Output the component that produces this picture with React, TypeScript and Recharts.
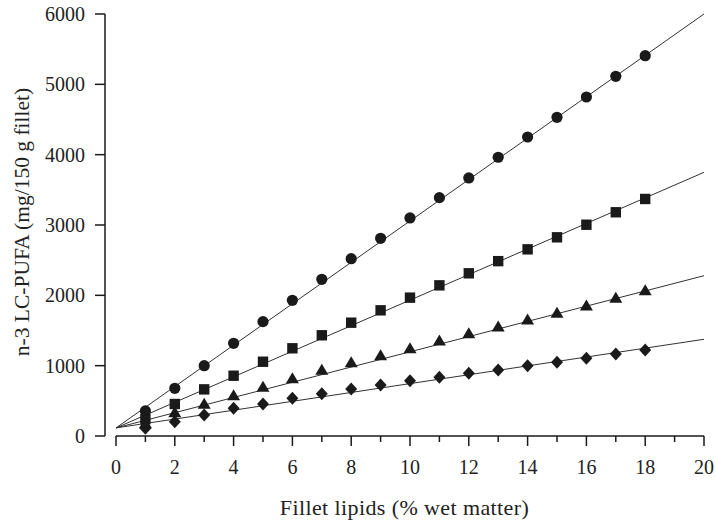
import React from "react"
import {
  ComposedChart,
  Line,
  Scatter,
  XAxis,
  YAxis,
  ReferenceLine,
  Label,
} from "recharts"

// fillet lipid levels (% wet matter)
const lipids = [1, 2, 3, 4, 5, 6, 7, 8, 9, 10, 11, 12, 13, 14, 15, 16, 17, 18]

// n-3 LC-PUFA per 150 g portion, one array per group
const circleVals = [356, 678, 1000, 1318, 1626, 1929, 2228, 2521, 2811, 3100, 3389, 3669, 3963, 4251, 4531, 4820, 5114, 5407]
const squareVals = [240, 455, 663, 857, 1056, 1247, 1432, 1611, 1787, 1967, 2142, 2313, 2486, 2654, 2825, 3004, 3181, 3370]
const triangleVals = [175, 330, 450, 573, 692, 815, 934, 1042, 1142, 1241, 1351, 1455, 1550, 1650, 1745, 1848, 1958, 2066]
const diamondVals = [109, 204, 299, 394, 455, 536, 602, 668, 725, 787, 835, 892, 940, 1000, 1048, 1105, 1166, 1223]

// regression lines, value at x = 0 and x = 20
const fitX = [0, 20]
const circleFit = [115, 6000]
const squareFit = [115, 3749]
const triangleFit = [115, 2279]
const diamondFit = [115, 1375]

const yTicks = [0, 1000, 2000, 3000, 4000, 5000, 6000]
const xTicks = [0, 1, 2, 3, 4, 5, 6, 7, 8, 9, 10, 11, 12, 13, 14, 15, 16, 17, 18, 19, 20]

const toPts = (vals: number[]) => lipids.map((x, i) => ({ x, y: vals[i] }))
const toFit = (vals: number[]) => fitX.map((x, i) => ({ x, y: vals[i] }))

const FONT = "'Liberation Serif', 'Times New Roman', serif"
const INK = "#1a1a1a"

const CircleDot = (p: any) => <circle cx={p.cx} cy={p.cy} r={5.6} fill={INK} />
const SquareDot = (p: any) => <rect x={p.cx - 5.2} y={p.cy - 5.2} width={10.4} height={10.4} fill={INK} />
const TriangleDot = (p: any) => (
  <polygon points={`${p.cx},${p.cy - 6.5} ${p.cx + 6.5},${p.cy + 4.5} ${p.cx - 6.5},${p.cy + 4.5}`} fill={INK} />
)
const DiamondDot = (p: any) => (
  <polygon points={`${p.cx},${p.cy - 6.5} ${p.cx + 6},${p.cy} ${p.cx},${p.cy + 6.5} ${p.cx - 6},${p.cy}`} fill={INK} />
)

const XTick = (props: any) => {
  const { x, y, payload } = props
  const major = payload.value % 2 === 0
  return (
    <g>
      <line x1={x} x2={x} y1={y} y2={y + (major ? 10 : 6)} stroke={INK} strokeWidth={1.5} />
      {major && (
        <text x={x} y={y + 38} textAnchor="middle" fontSize={20} fontFamily={FONT} fill="#222">
          {payload.value}
        </text>
      )}
    </g>
  )
}

const YTitle = (props: any) => {
  const { x, y, height } = props.viewBox
  const cx = x + 22
  const cy = y + height / 2 - 3
  return (
    <text
      x={cx}
      y={cy}
      transform={`rotate(-90 ${cx} ${cy})`}
      textAnchor="middle"
      dominantBaseline="central"
      fontSize={21.5}
      fontFamily={FONT}
      fill="#222"
    >
      n-3 LC-PUFA (mg/150 g fillet)
    </text>
  )
}

export default function App() {
  return (
    <div style={{ position: "fixed", left: 0, top: 0, width: 716, height: 520, background: "#fff" }}>
      <ComposedChart width={716} height={520} margin={{ top: 14, right: 12, bottom: 0, left: 0 }}>
        <XAxis
          dataKey="x"
          type="number"
          domain={[0, 20]}
          ticks={xTicks}
          interval={0}
          padding={{ left: 11 }}
          axisLine={false}
          tickLine={false}
          tickSize={0}
          tickMargin={0}
          tick={<XTick />}
          height={84}
        >
          <Label
            value="Fillet lipids (% wet matter)"
            position="insideBottom"
            offset={5}
            style={{ fontSize: 22, letterSpacing: 0.4, fontFamily: FONT, fill: "#222" }}
          />
        </XAxis>
        <YAxis
          dataKey="y"
          type="number"
          domain={[0, 6000]}
          ticks={yTicks}
          width={105}
          tickSize={10}
          tickMargin={10}
          axisLine={{ stroke: INK, strokeWidth: 1.5 }}
          tickLine={{ stroke: INK, strokeWidth: 1.5 }}
          tick={{ fontSize: 20, fontFamily: FONT, fill: "#222" }}
        >
          <Label content={<YTitle />} />
        </YAxis>

        <ReferenceLine
          segment={[{ x: 0, y: 0 }, { x: 20, y: 0 }]}
          stroke={INK}
          strokeWidth={1.5}
        />

        <Line data={toFit(circleFit)} dataKey="y" stroke="#333" strokeWidth={1} dot={false} isAnimationActive={false} />
        <Line data={toFit(squareFit)} dataKey="y" stroke="#333" strokeWidth={1} dot={false} isAnimationActive={false} />
        <Line data={toFit(triangleFit)} dataKey="y" stroke="#333" strokeWidth={1} dot={false} isAnimationActive={false} />
        <Line data={toFit(diamondFit)} dataKey="y" stroke="#333" strokeWidth={1} dot={false} isAnimationActive={false} />

        <Scatter data={toPts(circleVals)} dataKey="y" shape={CircleDot} isAnimationActive={false} />
        <Scatter data={toPts(squareVals)} dataKey="y" shape={SquareDot} isAnimationActive={false} />
        <Scatter data={toPts(triangleVals)} dataKey="y" shape={TriangleDot} isAnimationActive={false} />
        <Scatter data={toPts(diamondVals)} dataKey="y" shape={DiamondDot} isAnimationActive={false} />
      </ComposedChart>
    </div>
  )
}
